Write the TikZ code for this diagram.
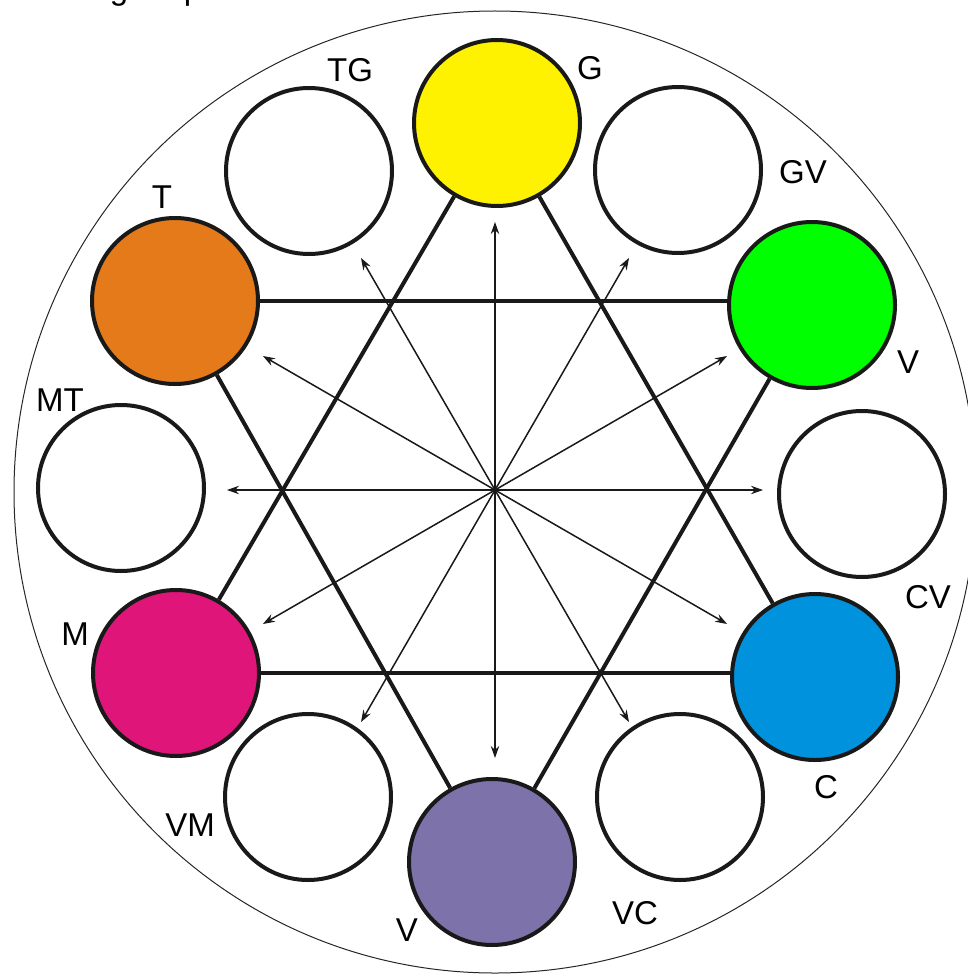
\documentclass[tikz,border=0pt]{standalone}
\usepackage{fontspec}
\setmainfont{Liberation Sans}
\usetikzlibrary{arrows.meta,calc}
\definecolor{cYellow}{RGB}{255,242,0}
\definecolor{cGreen}{RGB}{0,255,0}
\definecolor{cOrange}{RGB}{229,122,26}
\definecolor{cMagenta}{RGB}{224,21,122}
\definecolor{cBlue}{RGB}{0,146,220}
\definecolor{cPurple}{RGB}{125,115,170}
\tikzset{
  x=0.5pt, y=-0.5pt,
  disc/.style={circle, draw=black!90, line width=2pt, minimum size=83pt, inner sep=0pt, fill=white},
  lab/.style={font=\fontsize{16.5}{18}\selectfont, inner sep=0pt},
  hexline/.style={line width=2pt, draw=black!90},
  arr/.style={line width=0.75pt, draw=black!90, -{Stealth[length=6pt,width=4.2pt]}},
  outer/.style={line width=0.5pt, draw=black!85}
}
\begin{document}
\begin{tikzpicture}
\useasboundingbox (0,0) rectangle (968,974);
\coordinate (O) at (495,490);
\node[outer, circle, minimum size=481pt, inner sep=0pt] (rim) at (495,492) {};
% fragments of cropped text
\node[lab, anchor=base] (frag1) at (119,0) {g};
\node[lab, anchor=base] (frag2) at (193,0) {p};
% circles
\node[disc, fill=cYellow] (G) at (497,123) {};
\node[disc] (GV) at (678,170) {};
\node[disc, fill=cGreen] (Vg) at (812,305) {};
\node[disc] (CV) at (862,494) {};
\node[disc, fill=cBlue] (C) at (815,677) {};
\node[disc] (VC) at (680,797) {};
\node[disc, fill=cPurple] (Vp) at (492,862) {};
\node[disc] (VM) at (308,797) {};
\node[disc, fill=cMagenta] (M) at (176,673) {};
\node[disc] (MT) at (121,488) {};
\node[disc, fill=cOrange] (T) at (175,301) {};
\node[disc] (TG) at (309,171) {};
% hexagram
\draw[hexline] (G) -- (M);
\draw[hexline] (G) -- (C);
\draw[hexline] (M.east) -- (M.east -| C.west);
\draw[hexline] (T.east) -- (T.east -| Vg.west);
\draw[hexline] (T) -- (Vp);
\draw[hexline] (Vg) -- (Vp);
% arrows
\foreach \a/\n in {-90/a1,-60/a2,-30/a3,0/a4,30/a5,60/a6,90/a7,120/a8,150/a9,180/a10,210/a11,240/a12}{
  \coordinate (\n) at ($(O)+(\a:268)$);
  \draw[arr] (O) -- (\n);
}
% labels
\node[lab] (lTG) at (350,70) {TG};
\node[lab] (lG) at (590,68) {G};
\node[lab] (lGV) at (803,172) {GV};
\node[lab] (lV) at (908,362) {V};
\node[lab] (lCV) at (928,597) {CV};
\node[lab] (lC) at (826,787) {C};
\node[lab] (lVC) at (635,913) {VC};
\node[lab] (lVp) at (407,930) {V};
\node[lab] (lVM) at (190,825) {VM};
\node[lab] (lM) at (75,634) {M};
\node[lab] (lMT) at (60,400) {MT};
\node[lab] (lT) at (162,197) {T};
\end{tikzpicture}
\end{document}
